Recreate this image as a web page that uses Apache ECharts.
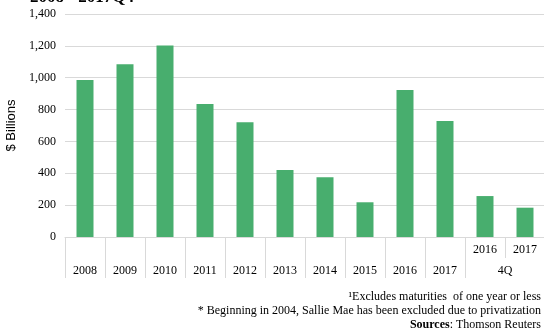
<!DOCTYPE html>
<html><head><meta charset="utf-8">
<script src="https://cdn.jsdelivr.net/npm/echarts@6/dist/echarts.min.js"></script>
<style>html,body{margin:0;padding:0;background:#fff}#c{width:544px;height:330px}</style>
</head><body><div id="c"></div>
<script>
const categories = ['2008','2009','2010','2011','2012','2013','2014','2015','2016','2017','4Q 2016','4Q 2017'];
const values = [985, 1085, 1203, 835, 720, 420, 375, 218, 923, 728, 257, 184];
const rowOneLabels = ['','','','','','','','','','','2016','2017'];
const rowTwoLabels = ['2008','2009','2010','2011','2012','2013','2014','2015','2016','2017','4Q',''];
const yTicks = {min:0, max:1400, interval:200};
const titleText = '2008 - 2017Q4';
const notes = ['\u00b9Excludes maturities  of one year or less', '* Beginning in 2004, Sallie Mae has been excluded due to privatization'];
const sourceLabel = 'Sources';
const sourceText = ': Thomson Reuters';

const serif = '"Liberation Serif", "DejaVu Serif", serif';
const chart = echarts.init(document.getElementById('c'), null, {renderer:'canvas'});
chart.setOption({
  animation:false,
  title:[
    {text:titleText, left:30, top:-11, padding:0, textStyle:{fontFamily:serif, fontWeight:'bold', fontSize:17, color:'#000'}},
    {text:notes[0], right:3, top:291, padding:0, textStyle:{fontFamily:serif, fontWeight:'normal', fontSize:12, color:'#000'}},
    {text:notes[1], right:3, top:305, padding:0, textStyle:{fontFamily:serif, fontWeight:'normal', fontSize:12, color:'#000'}},
    {text:'{b|'+sourceLabel+'}{n|'+sourceText+'}', right:3, top:319, padding:0,
     textStyle:{rich:{b:{fontFamily:serif, fontWeight:'bold', fontSize:12, color:'#000'}, n:{fontFamily:serif, fontWeight:'normal', fontSize:12, color:'#000'}}}}
  ],
  grid:{left:65, right:-1, top:14, height:223, containLabel:false, outerBoundsMode:'none'},
  xAxis:[
    {type:'category', data:categories, position:'bottom',
     axisLine:{show:true, lineStyle:{color:'#d9d9d9'}},
     axisTick:{show:true, length:21, interval:0, lineStyle:{color:'#d9d9d9'}},
     axisLabel:{interval:0, margin:7, fontFamily:serif, fontSize:12, color:'#000', formatter:(v,i)=>rowOneLabels[i]}},
    {type:'category', data:categories, position:'bottom', offset:21,
     axisLine:{show:false},
     axisTick:{show:true, length:20, interval:(i)=>i!==11, lineStyle:{color:'#d9d9d9'}},
     axisLabel:{interval:0, margin:7, fontFamily:serif, fontSize:12, color:'#000',
       formatter:(v,i)=> i===10 ? '{q|'+rowTwoLabels[i]+'}' : rowTwoLabels[i],
       rich:{q:{padding:[0,0,0,40], fontFamily:serif, fontSize:12, color:'#000'}}}}
  ],
  yAxis:{type:'value', min:yTicks.min, max:yTicks.max, interval:yTicks.interval,
    name:'$ Billions', nameLocation:'middle', nameGap:43, nameRotate:90,
    nameTextStyle:{fontFamily:'"Liberation Sans", Arial, sans-serif', fontSize:13, color:'#000'},
    axisLine:{show:false}, axisTick:{show:false},
    axisLabel:{margin:9, fontFamily:serif, fontSize:12, color:'#000', formatter:(v)=>v.toLocaleString('en-US')},
    splitLine:{lineStyle:{color:'#d9d9d9'}}},
  series:[{type:'bar', data:values, barWidth:17, xAxisIndex:0,
    itemStyle:{color:'#48ae6e'}}]
});
</script></body></html>
